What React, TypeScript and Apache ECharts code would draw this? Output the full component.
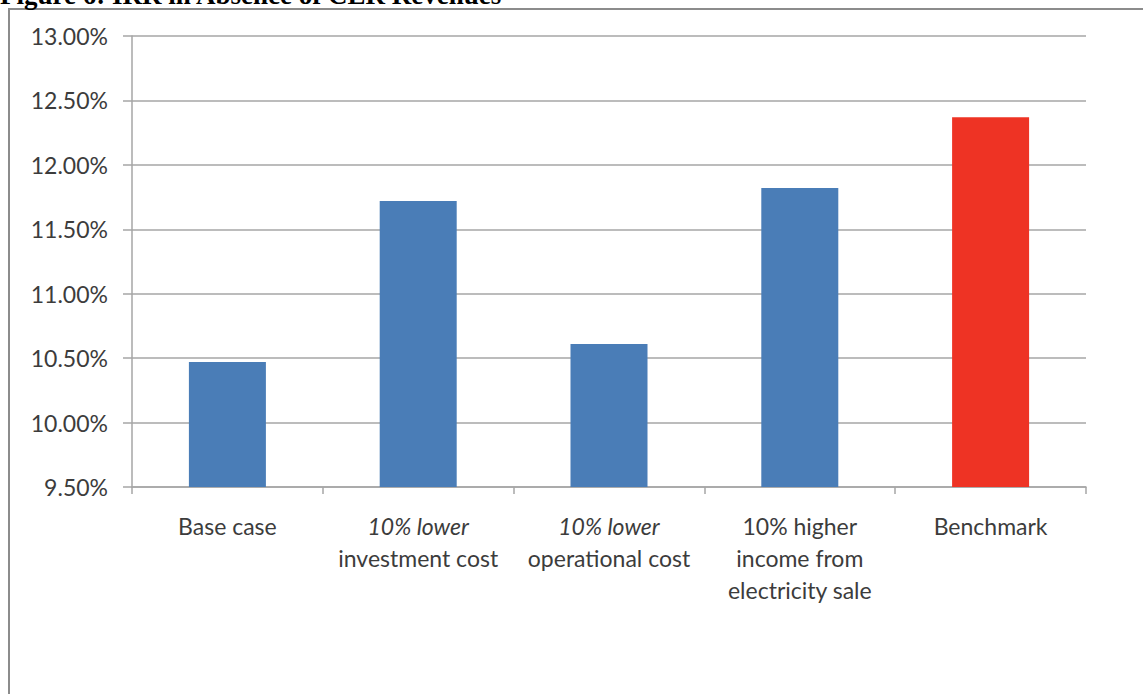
import React, { useEffect, useRef } from "react";
import * as echarts from "echarts";

const titleText = "Figure 6: IRR in Absence of CER Revenues";
const categories = [
  "Base case",
  "10% lower\ninvestment cost",
  "10% lower\noperational cost",
  "10% higher\nincome from\nelectricity sale",
  "Benchmark",
];
const irrValues = [10.47, 11.72, 10.61, 11.82, 12.37];
const barColors = ["#4a7db7", "#4a7db7", "#4a7db7", "#4a7db7", "#ee3324"];
const yMin = 9.5;
const yMax = 13.0;
const yStep = 0.5;

export default function App() {
  const ref = useRef<HTMLDivElement>(null);
  useEffect(() => {
    if (!ref.current) return;
    const chart = echarts.init(ref.current, undefined, { renderer: "svg" });
    const font = "Lato, 'Open Sans', sans-serif";
    const grey = "#a6a6a6";
    chart.setOption({
      animation: false,
      backgroundColor: "#ffffff",
      graphic: [
        {
          type: "rect",
          shape: { x: 9, y: 9, width: 1200, height: 800 },
          style: { fill: "#ffffff", stroke: "#8c8c8c", lineWidth: 2 },
          z: -10,
        },
        {
          type: "text",
          x: 0,
          y: -19,
          style: {
            text: titleText,
            font: "bold 27px 'Liberation Serif', 'Times New Roman', serif",
            fill: "#000000",
            textVerticalAlign: "top",
          },
        },
      ],
      grid: { left: 132, right: 57, top: 36, bottom: 207, containLabel: false },
      xAxis: {
        type: "category",
        data: categories,
        axisLine: { lineStyle: { color: grey, width: 1.5 } },
        axisTick: { show: true, length: 7, lineStyle: { color: grey, width: 1.5 } },
        axisLabel: {
          interval: 0,
          margin: 23,
          color: "#3c3c3c",
          fontFamily: font,
          fontSize: 23,
          lineHeight: 32,
          formatter: (v: string) => {
            const parts = v.split("\n");
            if (parts[0] === "10% lower") {
              return "{i|" + parts[0] + "}\n" + parts.slice(1).join("\n");
            }
            return v;
          },
          rich: {
            i: {
              fontStyle: "italic",
              fontFamily: font,
              fontSize: 23,
              lineHeight: 32,
              color: "#3c3c3c",
            },
          },
        },
      },
      yAxis: {
        type: "value",
        min: yMin,
        max: yMax,
        interval: yStep,
        axisLine: { show: true, lineStyle: { color: grey, width: 1.5 } },
        axisTick: { show: true, length: 9, lineStyle: { color: grey, width: 1.5 } },
        splitLine: { show: true, lineStyle: { color: grey, width: 1.5 } },
        axisLabel: {
          margin: 24,
          color: "#3c3c3c",
          fontFamily: font,
          fontSize: 23,
          formatter: (v: number) => v.toFixed(2) + "%",
        },
      },
      series: [
        {
          type: "bar",
          data: irrValues.map((v, i) => ({ value: v, itemStyle: { color: barColors[i] } })),
          barWidth: 77,
        },
      ],
    });
    return () => chart.dispose();
  }, []);
  return (
    <div
      ref={ref}
      style={{ position: "fixed", left: 0, top: 0, width: 1143, height: 694 }}
    />
  );
}
